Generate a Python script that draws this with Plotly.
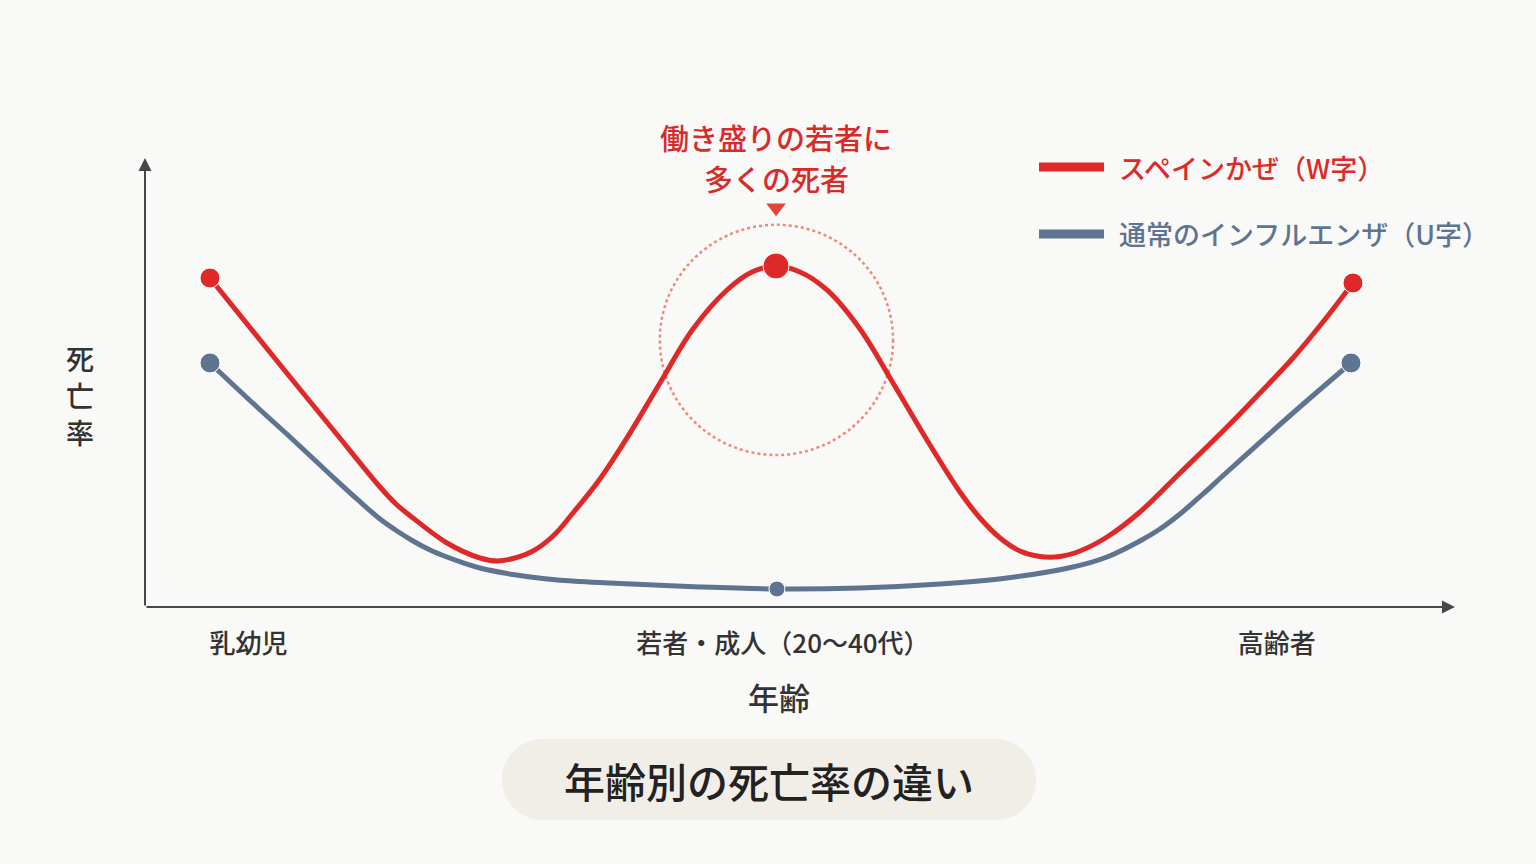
import plotly.graph_objects as go

# ---------------- data (x: relative age position 0-100, y: relative mortality 0-100) ----------
spanish_x = [4.96, 11.07, 14.50, 17.94, 19.16, 20.46, 23.05, 25.57, 26.87, 28.09, 29.62, 31.15,
             32.67, 34.73, 36.79, 39.31, 41.83, 44.43, 46.34, 48.17, 50.00, 52.06, 54.58, 57.10,
             59.69, 62.21, 63.74, 65.27, 66.79, 68.32, 69.85, 71.37, 73.44, 75.95, 79.01, 82.60,
             85.11, 87.63, 89.92, 92.21]
spanish_y = [73.60, 51.45, 39.15, 26.85, 23.04, 19.91, 14.32, 10.96, 10.29, 10.85, 12.53, 15.88,
             21.03, 28.64, 37.81, 50.11, 62.19, 70.92, 74.94, 76.29, 74.94, 70.92, 62.19, 50.11,
             37.36, 25.73, 19.91, 15.44, 12.53, 11.30, 11.30, 12.53, 15.66, 21.25, 29.98, 40.27,
             47.87, 55.70, 63.76, 72.48]

normal_x = [4.96, 8.55, 11.07, 14.50, 16.26, 17.94, 19.24, 20.46, 21.76, 23.05, 24.35, 25.57,
            28.09, 30.69, 33.21, 36.26, 42.37, 48.24, 54.58, 60.69, 65.80, 70.84, 73.44, 75.95,
            77.48, 79.01, 80.76, 82.60, 87.63, 92.06]
normal_y = [54.59, 44.74, 38.03, 28.64, 23.94, 19.69, 17.00, 14.77, 12.75, 11.19, 9.84, 8.72,
            7.27, 6.26, 5.70, 5.26, 4.47, 4.03, 4.25, 5.15, 6.49, 8.95, 11.19, 14.77,
            17.45, 20.81, 25.28, 30.20, 43.40, 54.59]

spanish_marker_idx = [0, 19, 39]
normal_marker_idx = [0, 17, 29]

tick_vals = [7.9, 48.7, 86.4]
tick_text = ["乳幼児", "若者・成人（20〜40代）", "高齢者"]

series_names = ["スペインかぜ（W字）", "通常のインフルエンザ（U字）"]
peak_note = ["働き盛りの若者に", "多くの死者"]
x_title = "年齢"
y_title = ["死", "亡", "率"]
chart_title = "年齢別の死亡率の違い"

RED = "#DF2828"
BLUE = "#5F7490"
AXIS = "#474747"
BG = "#F9F9F7"
FONT = "Noto Sans CJK JP"

# plot area in pixels
L, R, T, B = 145, 1455, 160, 607
W, H = 1536, 864


def PX(x):
    return (x - L) / (R - L)


def PY(y):
    return (B - y) / (B - T)


fig = go.Figure()

fig.add_trace(go.Scatter(
    x=normal_x, y=normal_y, mode="lines", name=series_names[1],
    line=dict(color=BLUE, width=5, shape="spline", smoothing=1.0),
    showlegend=False, hoverinfo="skip"))
fig.add_trace(go.Scatter(
    x=[normal_x[i] for i in normal_marker_idx], y=[normal_y[i] for i in normal_marker_idx],
    mode="markers", marker=dict(color=BLUE, size=[20, 16, 20], opacity=1),
    showlegend=False, cliponaxis=False))

fig.add_trace(go.Scatter(
    x=spanish_x, y=spanish_y, mode="lines", name=series_names[0],
    line=dict(color=RED, width=5, shape="spline", smoothing=1.0),
    showlegend=False, hoverinfo="skip"))
fig.add_trace(go.Scatter(
    x=[spanish_x[i] for i in spanish_marker_idx], y=[spanish_y[i] for i in spanish_marker_idx],
    mode="markers", marker=dict(color=RED, size=[20, 26, 20], opacity=1),
    showlegend=False, cliponaxis=False))

# small pointer triangle above the peak
fig.add_trace(go.Scatter(
    x=[spanish_x[19]], y=[89.3], mode="markers",
    marker=dict(symbol="triangle-down", color="#E2463B", size=17, opacity=1),
    showlegend=False, cliponaxis=False))

shapes = []
# dotted highlight circle around the peak
shapes.append(dict(type="circle", xref="x", yref="y", x0=39.3, x1=57.1, y0=34.0, y1=85.5,
                   line=dict(color="#F2887C", width=2.5, dash="dot"), layer="below"))

# legend lines
for py, col in [(167, RED), (234, BLUE)]:
    shapes.append(dict(type="line", xref="paper", yref="paper",
                       x0=PX(1039), x1=PX(1104), y0=PY(py), y1=PY(py),
                       line=dict(color=col, width=9)))

# title pill (rounded rectangle)
x0, x1, y0, y1 = PX(502), PX(1036), PY(820), PY(739)
rx = 40.5 / (R - L)
ry = 40.5 / (B - T)
k = 0.5523
path = (f"M {x0+rx},{y1} L {x1-rx},{y1} "
        f"C {x1-rx+k*rx},{y1} {x1},{y1-ry+k*ry} {x1},{y1-ry} "
        f"C {x1},{y0+ry-k*ry} {x1-rx+k*rx},{y0} {x1-rx},{y0} "
        f"L {x0+rx},{y0} "
        f"C {x0+rx-k*rx},{y0} {x0},{y0+ry-k*ry} {x0},{y0+ry} "
        f"C {x0},{y1-ry+k*ry} {x0+rx-k*rx},{y1} {x0+rx},{y1} Z")
shapes.append(dict(type="path", xref="paper", yref="paper", path=path,
                   fillcolor="#F1EEE8", line=dict(width=0), layer="below"))

annotations = []
# axis arrows
annotations.append(dict(xref="paper", yref="paper", x=1.0, y=0, ax=-(R - L), ay=0,
                        axref="pixel", ayref="pixel", text="", showarrow=True,
                        arrowhead=2, arrowsize=1.3, arrowwidth=2, arrowcolor=AXIS))
annotations.append(dict(xref="paper", yref="paper", x=0, y=PY(158), ax=0, ay=(B - 158),
                        axref="pixel", ayref="pixel", text="", showarrow=True,
                        arrowhead=2, arrowsize=1.3, arrowwidth=2, arrowcolor=AXIS))

# peak note (two lines)
for txt, py in zip(peak_note, [137, 178]):
    annotations.append(dict(xref="paper", yref="paper", x=PX(776), y=PY(py), text=txt,
                            showarrow=False, xanchor="center", yanchor="middle",
                            font=dict(family=FONT, size=29, color="#D92A2A", weight=500)))

# legend texts
annotations.append(dict(xref="paper", yref="paper", x=PX(1117), y=PY(167), text=series_names[0],
                        showarrow=False, xanchor="left", yanchor="middle",
                        font=dict(family=FONT, size=27, color=RED, weight=500)))
annotations.append(dict(xref="paper", yref="paper", x=PX(1117), y=PY(234), text=series_names[1],
                        showarrow=False, xanchor="left", yanchor="middle",
                        font=dict(family=FONT, size=27, color=BLUE, weight=500)))

# y title (stacked characters)
for ch, py in zip(y_title, [358, 395, 432]):
    annotations.append(dict(xref="paper", yref="paper", x=PX(80), y=PY(py), text=ch,
                            showarrow=False, xanchor="center", yanchor="middle",
                            font=dict(family=FONT, size=28, color="#333333", weight=500)))

# x title
annotations.append(dict(xref="paper", yref="paper", x=PX(779), y=PY(696), text=x_title,
                        showarrow=False, xanchor="center", yanchor="middle",
                        font=dict(family=FONT, size=31, color="#333333", weight=500)))

# chart title
annotations.append(dict(xref="paper", yref="paper", x=PX(769), y=PY(780), text=chart_title,
                        showarrow=False, xanchor="center", yanchor="middle",
                        font=dict(family=FONT, size=41, color="#222222", weight=500)))

fig.update_layout(
    width=W, height=H,
    margin=dict(l=L, r=W - R, t=T, b=H - B, pad=0),
    paper_bgcolor=BG, plot_bgcolor=BG,
    font=dict(family=FONT, color="#333333"),
    shapes=shapes, annotations=annotations,
    showlegend=False,
    xaxis=dict(range=[0, 100], showgrid=False, zeroline=False, showline=False,
               tickvals=tick_vals, ticktext=tick_text, ticks="outside", ticklen=14,
               tickcolor="rgba(0,0,0,0)",
               tickfont=dict(family=FONT, size=26, color="#333333", weight=500),
               fixedrange=True),
    yaxis=dict(range=[0, 100], showgrid=False, zeroline=False, showline=False,
               showticklabels=False, fixedrange=True),
)

fig.write_html("out.html")
